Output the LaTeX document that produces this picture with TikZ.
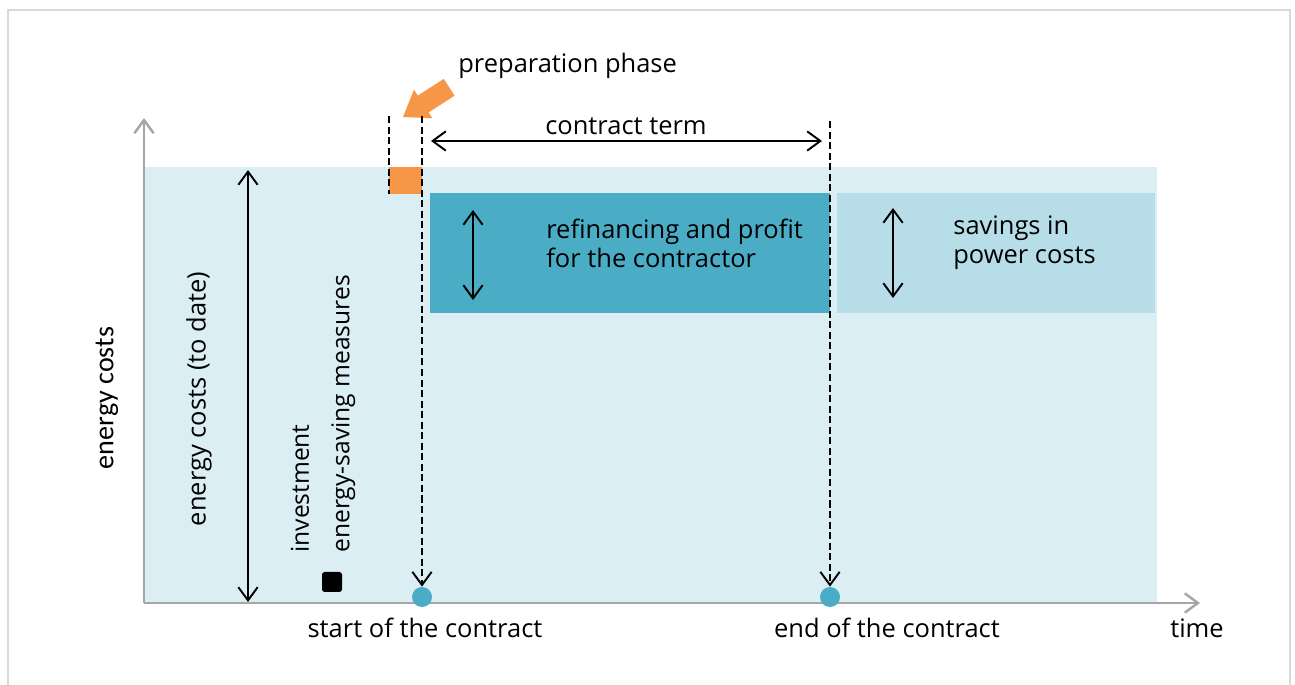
\documentclass[tikz,border=0pt]{standalone}
\usepackage{fontspec}
\setmainfont{Open Sans}
\newfontfamily\calibrifont{Carlito}
\usetikzlibrary{arrows.meta}

\definecolor{costblue}{HTML}{DAEEF3}
\definecolor{contractblue}{HTML}{4BACC6}
\definecolor{savingblue}{HTML}{B7DEE8}
\definecolor{preporange}{HTML}{F79646}
\definecolor{axisgray}{HTML}{A6A6A6}
\definecolor{framegray}{HTML}{D9D9D9}

\tikzset{
    barb/.tip={Straight Barb[length=7.5pt,width=11pt]},
    axisline/.style={draw=axisgray, line width=1.4pt, -barb},
    span/.style={line width=1.1pt, barb-barb},
    marker/.style={line width=1.1pt, dash pattern=on 4pt off 2pt},
    txt/.style={font=\fontsize{14.5}{16.5}\selectfont, inner sep=0pt},
    dot/.style={circle, fill=contractblue, minimum size=20*0.02cm, inner sep=0pt},
}

\begin{document}
\begin{tikzpicture}[x=0.02cm, y=-0.02cm]
    \useasboundingbox (0,0) rectangle (1295,685);
    \draw[framegray, line width=0.8pt] (8,700) -- (8,10) -- (1290,10) -- (1290,700);

    % areas
    \fill[costblue] (144,167) rectangle (1157,603);
    \fill[contractblue] (430,193) rectangle (830,313);
    \fill[savingblue] (837,193) rectangle (1155,313);
    \fill[preporange] (389,167) rectangle (422,194);

    % axes
    \coordinate (origin) at (144,603);
    \coordinate (ytip) at (144,118);
    \coordinate (xtip) at (1200,603);
    \draw[axisline] (origin) -- (ytip);
    \draw[axisline] (origin) -- (xtip);

    % preparation arrow
    \fill[preporange] (403,117) -- (432.4,118.3) -- (428.6,112.4) -- (454.6,95.7)
        -- (443.8,78.9) -- (417.8,95.6) -- (414.0,89.7) -- cycle;
    \node[txt, anchor=base west] (prep) at (458,73) {preparation phase};

    % start and end of the contract
    \node[dot] (start) at (422,597) {};
    \node[dot] (end) at (830,597) {};
    \coordinate (prepTop) at (389,116);
    \coordinate (prepBot) at (389,194);
    \coordinate (startTop) at (422,116);
    \coordinate (endTop) at (830,121);
    \draw[marker] (prepTop) -- (prepBot);
    \draw[marker, -barb] (startTop) -- (start.north);
    \draw[marker, -barb] (endTop) -- (end.north);
    \node[txt, anchor=base] (startlbl) at (425,638) {start of the contract};
    \node[txt, anchor=base] (endlbl) at (887,638) {end of the contract};
    \node[txt, anchor=base] (time) at (1197,638) {time};

    % contract term
    \coordinate (termL) at (431,141);
    \coordinate (termR) at (822,141);
    \draw[span] (termL) -- (termR);
    \node[txt, anchor=base] (term) at (626,135) {contract term};

    % energy costs so far
    \coordinate (costTop) at (248,170);
    \coordinate (costBot) at (248,602);
    \draw[span] (costTop) -- (costBot);
    \node[txt, rotate=90] (costlbl) at (199,399) {energy costs (to date)};
    \node[txt, font=\calibrifont\fontsize{16}{18}\selectfont, rotate=90] (ylbl) at (107,398) {energy costs};

    % investment
    \node[fill=black, rounded corners=1.5pt, minimum size=20*0.02cm, inner sep=0pt] (invest) at (332,582) {};
    \node[txt, rotate=90, align=left, anchor=west, font=\fontsize{14}{23}\selectfont]
        (investlbl) at (323,553) {investment\\energy-saving measures};

    % refinancing
    \coordinate (refTop) at (473,210);
    \coordinate (refBot) at (473,300);
    \draw[span] (refTop) -- (refBot);
    \node[txt, align=left, anchor=west] (reflbl) at (546,243) {refinancing and profit\\for the contractor};

    % savings
    \coordinate (savTop) at (893,208);
    \coordinate (savBot) at (893,298);
    \draw[span] (savTop) -- (savBot);
    \node[txt, align=left, anchor=west] (savlbl) at (953,243) {savings in\\power costs};
\end{tikzpicture}
\end{document}
